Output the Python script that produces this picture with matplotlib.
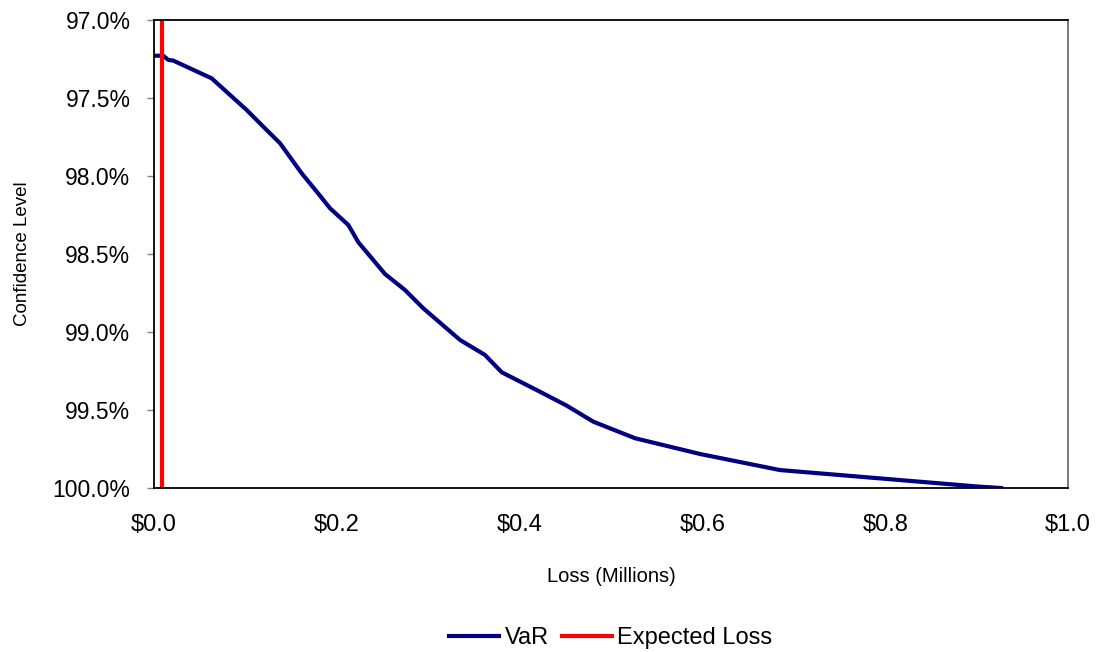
import matplotlib
matplotlib.use("Agg")
import matplotlib.pyplot as plt
from matplotlib.ticker import FuncFormatter

plt.rcParams['font.family'] = ['Liberation Sans', 'DejaVu Sans']

# VaR curve: loss (millions) vs confidence level (%)
var_loss = [0.0, 0.010, 0.0157, 0.021, 0.0631, 0.1014, 0.1196, 0.1379, 0.1616,
            0.178, 0.1926, 0.2126, 0.2236, 0.2527, 0.2746, 0.2946, 0.3348,
            0.3621, 0.3804, 0.4223, 0.4515, 0.4807, 0.5263, 0.5974, 0.6849,
            0.90, 0.9267]
var_conf = [97.229, 97.229, 97.256, 97.26, 97.374, 97.577, 97.684, 97.79, 97.983,
            98.10, 98.207, 98.314, 98.425, 98.628, 98.731, 98.848, 99.051,
            99.147, 99.258, 99.383, 99.472, 99.575, 99.681, 99.782, 99.885,
            99.99, 100.0]
expected_loss = 0.0084

xticks = [0.0, 0.2, 0.4, 0.6, 0.8, 1.0]
yticks = [97.0, 97.5, 98.0, 98.5, 99.0, 99.5, 100.0]

W, H = 1099, 652
fig = plt.figure(figsize=(W / 100, H / 100), dpi=100)
ax_l, ax_r, ax_t, ax_b = 154, 1068, 20, 488
ax = fig.add_axes([ax_l / W, 1 - ax_b / H, (ax_r - ax_l) / W, (ax_b - ax_t) / H])

ax.plot(var_loss, var_conf, color='#000080', lw=3, label='VaR', solid_joinstyle='round')
ax.plot([expected_loss, expected_loss], [97.0, 100.0], color='#ff0000', lw=3, label='Expected Loss')

ax.set_xlim(0, 1.0)
ax.set_ylim(100.0, 97.0)
ax.set_xticks(xticks)
ax.set_yticks(yticks)
ax.xaxis.set_major_formatter(FuncFormatter(lambda v, p: f"${v:.1f}"))
ax.yaxis.set_major_formatter(FuncFormatter(lambda v, p: f"{v:.1f}%"))
ax.tick_params(axis='y', labelsize=16.5, length=5, width=1, color='#808080', direction='out', pad=12)
ax.tick_params(axis='x', labelsize=17, length=0, pad=19)
for s in ax.spines.values():
    s.set_color('black')
    s.set_linewidth(1.3)
ax.spines['right'].set_color('#707070')

ax.set_xlabel('Loss (Millions)', fontsize=14.5)
ax.xaxis.set_label_coords(0.5, -(567 - ax_b) / (ax_b - ax_t))
ax.set_ylabel('Confidence Level', fontsize=13.5)
ax.yaxis.set_label_coords(-(ax_l - 31) / (ax_r - ax_l), 0.5)

fig.legend(loc='center', bbox_to_anchor=(611 / W, 1 - 638 / H), ncol=2, frameon=False,
           fontsize=17, handlelength=2.1, handletextpad=0.25, columnspacing=0.55,
           borderpad=0.1)

fig.savefig('out.png', dpi=100)
